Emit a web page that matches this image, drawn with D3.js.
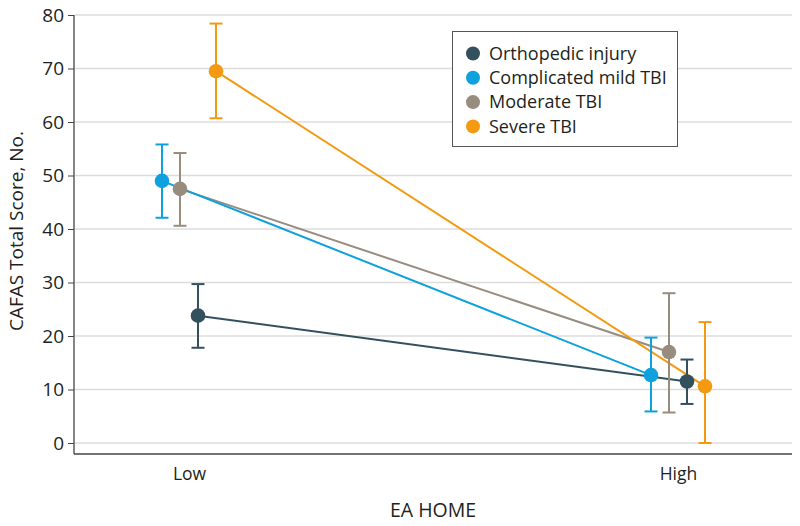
<!DOCTYPE html>
<html><head><meta charset="utf-8">
<script src="https://cdn.jsdelivr.net/npm/d3@7"></script>
<style>body{margin:0;background:#fff}svg{display:block}text{font-family:"Open Sans","DejaVu Sans",sans-serif;fill:#231f20}</style>
</head><body><svg id="c" width="800" height="526"></svg>
<script>
const categories = ["Low", "High"];
const seriesNames = ["Complicated mild TBI", "Moderate TBI", "Orthopedic injury", "Severe TBI"];
const legendOrder = ["Orthopedic injury", "Complicated mild TBI", "Moderate TBI", "Severe TBI"];
const colors = {"Orthopedic injury":"#33505e","Complicated mild TBI":"#0ea1de","Moderate TBI":"#988c7e","Severe TBI":"#f39a12"};
const means = {"Orthopedic injury":[23.8,11.5],"Complicated mild TBI":[49.0,12.7],"Moderate TBI":[47.5,17.0],"Severe TBI":[69.5,10.6]};
const lowerCI = {"Orthopedic injury":[17.8,7.3],"Complicated mild TBI":[42.1,5.9],"Moderate TBI":[40.6,5.7],"Severe TBI":[60.7,0]};
const upperCI = {"Orthopedic injury":[29.7,15.6],"Complicated mild TBI":[55.8,19.7],"Moderate TBI":[54.2,28.0],"Severe TBI":[78.4,22.6]};
const yTicks = [0,10,20,30,40,50,60,70,80];

const svg = d3.select("#c");
const L=74, R=792, T=15, B=454;
const y = d3.scaleLinear().domain([0,80]).range([443,15]);
const x = d3.scalePoint().domain(categories).range([189,678]);
const dodge = d3.scalePoint().domain(seriesNames).range([-27,27]);

// gridlines
svg.append("g").selectAll("line").data(yTicks).join("line")
  .attr("x1",L+1).attr("x2",R).attr("y1",d=>y(d)).attr("y2",d=>y(d))
  .attr("stroke","#dcdcdc").attr("stroke-width",1.5);

// y axis
const ya = svg.append("g").attr("transform",`translate(${L},0)`).call(d3.axisLeft(y).tickValues(yTicks).tickSize(6).tickPadding(4));
ya.select(".domain").remove();
ya.selectAll(".tick line").attr("stroke","#444");
ya.selectAll(".tick text").style("font-size","19px").style("font-family",'"Open Sans",sans-serif').attr("fill","#231f20");
svg.append("line").attr("x1",L).attr("x2",L).attr("y1",T).attr("y2",B).attr("stroke","#444").attr("stroke-width",1.3);

// x axis
const xa = svg.append("g").attr("transform",`translate(0,${B})`).call(d3.axisBottom(x).tickSize(0).tickPadding(14));
xa.select(".domain").attr("d",`M${L},0H${R}`).attr("stroke","#444").attr("stroke-width",1.3);
xa.selectAll(".tick text").style("font-size","17.5px").style("font-family",'"Open Sans",sans-serif').attr("fill","#231f20");

// titles
svg.append("text").attr("x",433).attr("y",517).attr("text-anchor","middle").style("font-size","19.5px").text("EA HOME");
svg.append("text").attr("transform","translate(23,231) rotate(-90)").attr("text-anchor","middle").style("font-size","19px").text("CAFAS Total Score, No.");

// series: lines then error bars then points
const px = (s,i)=>x(categories[i])+dodge(s);
const line = d3.line();
const drawOrder = ["Orthopedic injury","Moderate TBI","Complicated mild TBI","Severe TBI"];
drawOrder.forEach(s=>{
  svg.append("path").attr("d",line(categories.map((c,i)=>[px(s,i),y(means[s][i])])))
    .attr("fill","none").attr("stroke",colors[s]).attr("stroke-width",2);
});
drawOrder.forEach(s=>{
  const g = svg.append("g").attr("stroke",colors[s]).attr("stroke-width",2).attr("fill",colors[s]);
  categories.forEach((c,i)=>{
    const cx=px(s,i);
    g.append("line").attr("x1",cx).attr("x2",cx).attr("y1",y(lowerCI[s][i])).attr("y2",y(upperCI[s][i]));
    g.append("line").attr("x1",cx-6.5).attr("x2",cx+6.5).attr("y1",y(lowerCI[s][i])).attr("y2",y(lowerCI[s][i]));
    g.append("line").attr("x1",cx-6.5).attr("x2",cx+6.5).attr("y1",y(upperCI[s][i])).attr("y2",y(upperCI[s][i]));
    g.append("circle").attr("cx",cx).attr("cy",y(means[s][i])).attr("r",7.3).attr("stroke","none");
  });
});

// legend
const lg = svg.append("g");
lg.append("rect").attr("x",452.5).attr("y",31.5).attr("width",225).attr("height",115).attr("fill","#fff").attr("stroke","#555").attr("stroke-width",1);
legendOrder.forEach((s,i)=>{
  const yy = 53.5 + i*24.3;
  lg.append("circle").attr("cx",473).attr("cy",yy).attr("r",7).attr("fill",colors[s]);
  lg.append("text").attr("x",489).attr("y",yy).attr("dy","0.35em").style("font-size","18px").text(s);
});
</script></body></html>
